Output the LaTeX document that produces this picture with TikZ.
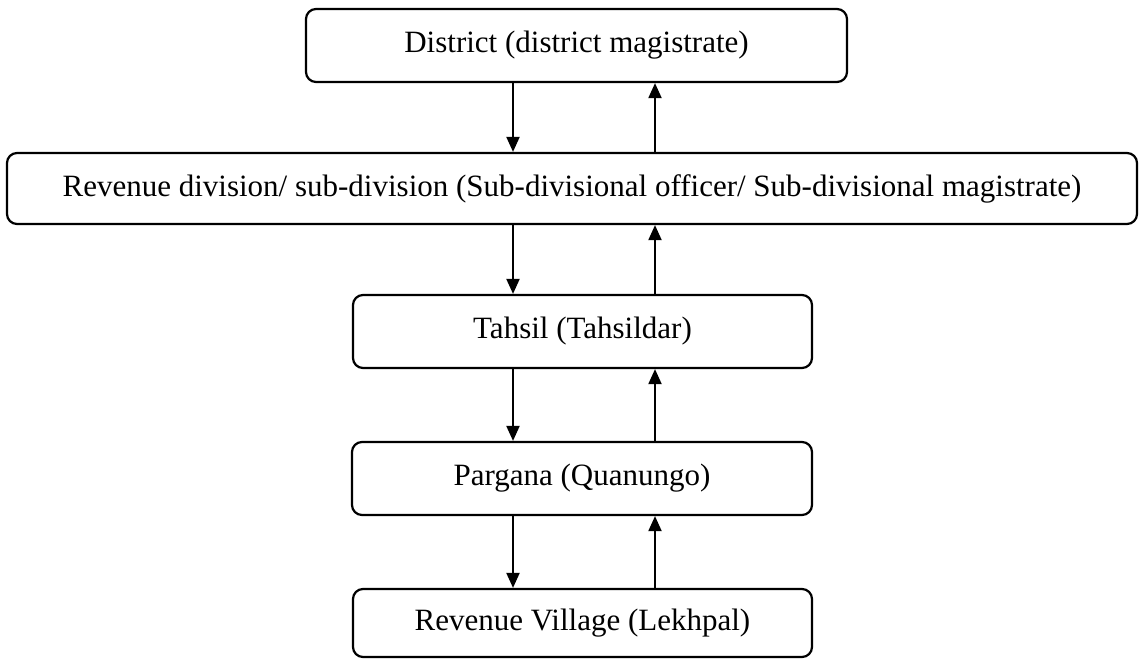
\documentclass[tikz,border=0pt]{standalone}
\usepackage{fontspec}
\setmainfont{Liberation Serif}
\usetikzlibrary{arrows.meta}
\begin{document}
\begin{tikzpicture}[x=0.5pt,y=-0.5pt,
  level/.style={draw, line width=1.1pt, rounded corners=5pt, inner sep=0pt,
    font=\fontsize{15.5}{18}\selectfont},
  link/.style={line width=1pt, -{Triangle[width=6.5pt,length=7.5pt]}}]
  \useasboundingbox (0,0) rectangle (1139,659);
  % hierarchy levels
  \node[level, minimum width=270.5pt, minimum height=36.5pt] (dist) at (576.5,45.5) {District (district magistrate)};
  \node[level, minimum width=565pt, minimum height=35.5pt] (rev) at (572,188.5) {Revenue division/ sub-division (Sub-divisional officer/ Sub-divisional magistrate)};
  \node[level, minimum width=229.5pt, minimum height=36.5pt] (tah) at (582.5,331.5) {Tahsil (Tahsildar)};
  \node[level, minimum width=230pt, minimum height=36.5pt] (par) at (582,478.5) {Pargana (Quanungo)};
  \node[level, minimum width=229.5pt, minimum height=34pt] (vil) at (582.5,623) {Revenue Village (Lekhpal)};
  % columns for the downward and upward links
  \coordinate (dn) at (513,0);
  \coordinate (up) at (655,0);
  % downward links
  \draw[link] (dist.south -| dn) -- (rev.north -| dn);
  \draw[link] (rev.south -| dn) -- (tah.north -| dn);
  \draw[link] (tah.south -| dn) -- (par.north -| dn);
  \draw[link] (par.south -| dn) -- (vil.north -| dn);
  % upward links
  \draw[link] (rev.north -| up) -- (dist.south -| up);
  \draw[link] (tah.north -| up) -- (rev.south -| up);
  \draw[link] (par.north -| up) -- (tah.south -| up);
  \draw[link] (vil.north -| up) -- (par.south -| up);
\end{tikzpicture}
\end{document}
